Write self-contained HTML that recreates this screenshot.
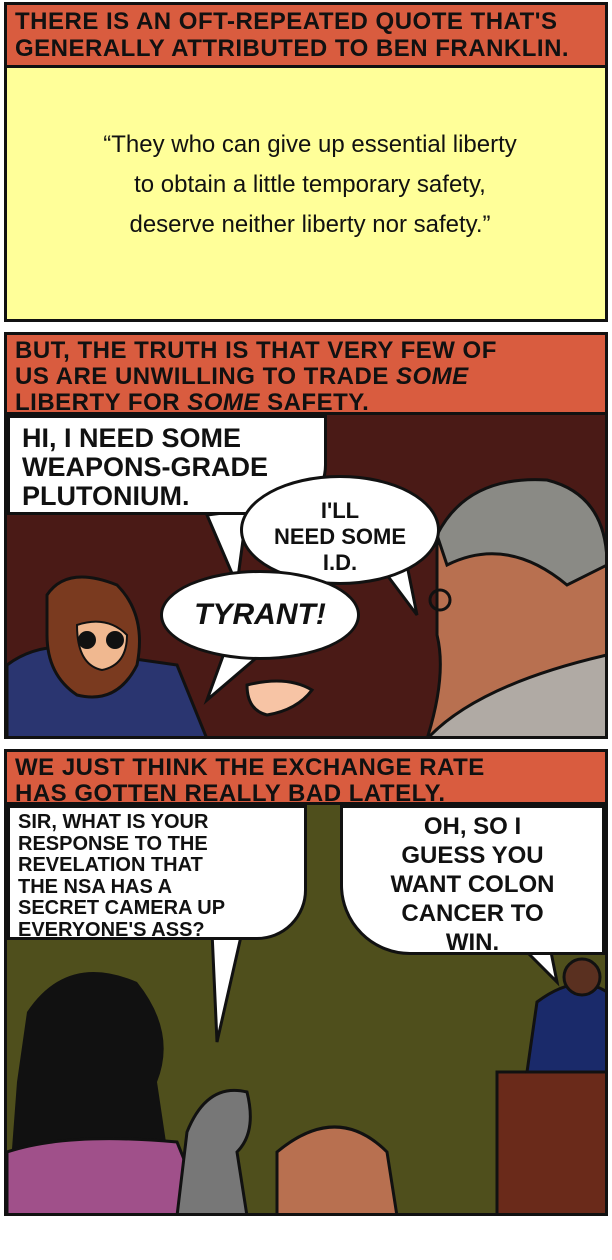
<!DOCTYPE html><html><head><style>
body{margin:0;width:612px;height:1260px;background:#fff;position:relative;overflow:hidden;font-family:"Liberation Sans",sans-serif}
.a{position:absolute;box-sizing:border-box}
.hd{font-weight:bold;color:#111;font-size:23px;line-height:26px;padding:3px 8px;text-transform:uppercase;letter-spacing:0.5px;font-family:"Liberation Sans Narrow","Liberation Sans",sans-serif;white-space:nowrap}
.b{background:#fff;border:3px solid #111;border-radius:40px;font-weight:bold;text-transform:uppercase;color:#111;font-family:"Liberation Sans Narrow","Liberation Sans",sans-serif;white-space:nowrap}
</style></head><body>
<div class="a" style="left:4px;top:2px;width:604px;height:320px;border:3px solid #111;background:#ffff99"></div>
<div class="a hd" style="left:4px;top:2px;width:604px;height:66px;border:3px solid #111;background:#d95c3f;font-size:24px;line-height:27px">There is an oft-repeated quote that's<br>generally attributed to Ben Franklin.</div>
<div class="a" style="left:40px;top:125px;width:540px;text-align:center;font-size:24px;line-height:40px;color:#111">“They who can give up essential liberty<br>to obtain a little temporary safety,<br>deserve neither liberty nor safety.”</div>

<div class="a" style="left:4px;top:332px;width:604px;height:407px;border:3px solid #111;background:#4a1a16;overflow:hidden">
<svg width="600" height="404" style="position:absolute;left:0;top:0">
<path d="M0 330 Q40 300 100 320 L170 330 L200 404 L0 404Z" fill="#2a3570" stroke="#111" stroke-width="3"/>
<path d="M40 260 Q60 230 110 250 Q140 280 130 330 Q110 370 70 360 Q40 340 40 300Z" fill="#7a3a1f" stroke="#111" stroke-width="3"/>
<path d="M70 290 Q100 280 120 300 Q120 330 95 335 Q70 330 70 290Z" fill="#f0b890" stroke="#111" stroke-width="2"/>
<circle cx="80" cy="305" r="9" fill="#111"/><circle cx="108" cy="305" r="9" fill="#111"/>
<path d="M240 350 Q280 340 305 355 Q290 375 260 380 Q240 375 240 350Z" fill="#f7c4a5" stroke="#111" stroke-width="3"/>
<path d="M430 210 Q470 140 550 150 Q600 170 600 230 L600 404 L420 404 Q440 340 430 300Z" fill="#b87050" stroke="#111" stroke-width="3"/>
<path d="M430 200 Q460 140 540 145 Q600 160 600 230 L560 250 Q500 200 440 230Z" fill="#8a8a85" stroke="#111" stroke-width="3"/>
<path d="M420 404 Q470 350 600 320 L600 404Z" fill="#b0aaa4" stroke="#111" stroke-width="3"/>
<circle cx="433" cy="265" r="10" fill="none" stroke="#111" stroke-width="3"/>
<path d="M200 180 L230 250 L240 175Z" fill="#fff" stroke="#111" stroke-width="3"/>
<path d="M380 240 L410 280 L400 230Z" fill="#fff" stroke="#111" stroke-width="3"/>
<path d="M220 310 L200 365 L255 318Z" fill="#fff" stroke="#111" stroke-width="3"/>
</svg></div>
<div class="a hd" style="left:4px;top:332px;width:604px;height:83px;border:3px solid #111;background:#d95c3f;font-size:24px">But, the truth is that very few of<br>us are unwilling to trade <i>some</i><br>liberty for <i>some</i> safety.</div>
<div class="a b" style="left:7px;top:415px;width:320px;height:100px;border-radius:0 0 50px 0;font-size:27px;line-height:29px;padding:6px 12px">Hi, I need some<br>weapons-grade<br>plutonium.</div>
<div class="a b" style="left:240px;top:475px;width:200px;height:110px;border-radius:50%;font-size:22px;line-height:26px;text-align:center;padding-top:20px">I'll<br>need some<br>I.D.</div>
<div class="a b" style="left:160px;top:570px;width:200px;height:90px;border-radius:50%;font-size:30px;font-style:italic;text-align:center;padding-top:25px">Tyrant!</div>

<div class="a" style="left:4px;top:749px;width:604px;height:467px;border:3px solid #111;background:#4f4f1c;overflow:hidden">
<svg width="600" height="464" style="position:absolute;left:0;top:0">
<path d="M20 260 Q60 200 130 230 Q170 280 150 330 L170 464 L0 464 L10 330Z" fill="#111"/>
<path d="M0 400 Q60 380 170 390 L200 464 L0 464Z" fill="#a0508a" stroke="#111" stroke-width="3"/>
<path d="M180 380 Q200 330 240 340 Q250 380 230 400 L240 464 L170 464Z" fill="#777" stroke="#111" stroke-width="3"/>
<path d="M270 400 Q330 350 380 400 L390 464 L270 464Z" fill="#b87050" stroke="#111" stroke-width="3"/>
<path d="M490 320 L600 320 L600 464 L490 464Z" fill="#6a2a1a" stroke="#111" stroke-width="3"/>
<path d="M530 250 Q570 220 600 240 L600 320 L520 320Z" fill="#1a2a6a" stroke="#111" stroke-width="3"/>
<circle cx="575" cy="225" r="18" fill="#5a3020" stroke="#111" stroke-width="3"/>
<path d="M205 180 L210 290 L235 180Z" fill="#fff" stroke="#111" stroke-width="3"/>
<path d="M510 190 L550 230 L540 180Z" fill="#fff" stroke="#111" stroke-width="3"/>
</svg></div>
<div class="a hd" style="left:4px;top:749px;width:604px;height:56px;border:3px solid #111;background:#d95c3f;font-size:24px">We just think the exchange rate<br>has gotten really bad lately.</div>
<div class="a b" style="left:7px;top:805px;width:300px;height:135px;border-radius:0 0 50px 0;font-size:20px;line-height:21.5px;padding:4px 8px">Sir, what is your<br>response to the<br>revelation that<br>the NSA has a<br>secret camera up<br>everyone's ass?</div>
<div class="a b" style="left:340px;top:805px;width:265px;height:150px;border-radius:0 0 0 70px;font-size:24px;line-height:29px;padding:4px 20px;text-align:center">Oh, so I<br>guess you<br>want colon<br>cancer to<br>win.</div>
</body></html>
